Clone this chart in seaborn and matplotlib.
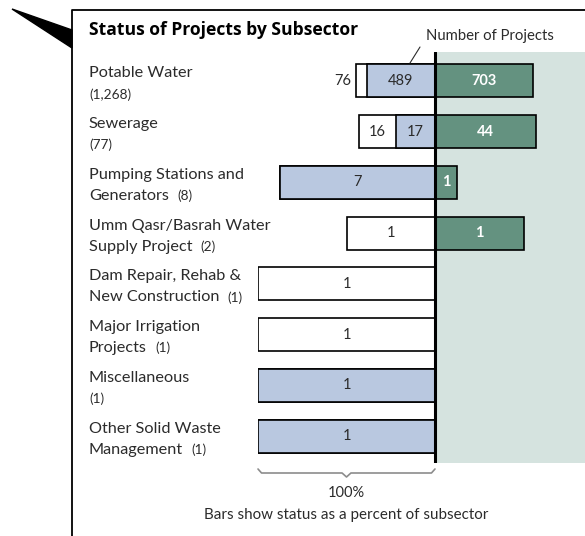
import numpy as np
import pandas as pd
import seaborn as sns
import matplotlib
matplotlib.use('Agg')
import matplotlib.pyplot as plt
import matplotlib.transforms as mtransforms
from matplotlib.patches import Polygon
from matplotlib.lines import Line2D

# subsector names (line 1, line 2); the project count is appended after line 2
name_line1 = ['Potable Water', 'Sewerage', 'Pumping Stations and', 'Umm Qasr/Basrah Water',
              'Dam Repair, Rehab &', 'Major Irrigation', 'Miscellaneous', 'Other Solid Waste']
name_line2 = ['', '', 'Generators', 'Supply Project', 'New Construction', 'Projects', '',
              'Management']
not_started = [76, 16, 0, 1, 1, 1, 0, 0]
ongoing = [489, 17, 7, 0, 0, 0, 1, 1]
completed = [703, 44, 1, 1, 0, 0, 0, 0]

df = pd.DataFrame({'name': name_line1, 'line2': name_line2, 'not_started': not_started,
                   'ongoing': ongoing, 'completed': completed})
df['total'] = df['not_started'] + df['ongoing'] + df['completed']
df['pct_ns'] = 100 * df['not_started'] / df['total']
df['pct_on'] = 100 * df['ongoing'] / df['total']
df['pct_co'] = 100 * df['completed'] / df['total']
df['left_all'] = -(df['pct_ns'] + df['pct_on'])
df['left_on'] = -df['pct_on']

sns.set_theme(style='white')
plt.rcParams['font.family'] = ['Lato', 'DejaVu Sans']

W, H = 585, 536
white, blue, green, bg = '#ffffff', '#b3c6e6', '#5c9a82', '#d5e3df'
txt = '#2b2b2b'
num_fs, lab_fs, cnt_fs = 10.5, 11.7, 9.8

fig = plt.figure(figsize=(W / 100, H / 100), dpi=100)
ax = fig.add_axes([258 / W, 1 - 463 / H, (W - 258) / W, (463 - 52) / H])

bar_kw = dict(y='name', orient='h', edgecolor='black', linewidth=1.2, width=0.65,
              errorbar=None, ax=ax, zorder=3)
sns.barplot(data=df, x='left_all', color=white, **bar_kw)
sns.barplot(data=df, x='left_on', color=blue, **bar_kw)
sns.barplot(data=df, x='pct_co', color=green, **bar_kw)

xmax = (W - 435) / 177 * 100
ax.set_xlim(-100, xmax)
ax.set_ylim(7.53, -0.57)
ax.axvspan(0, xmax, color=bg, zorder=0, lw=0)
ax.axvline(0, color='black', lw=2.2, zorder=5)
ax.set_axis_off()

# numbers in the segments
for i, r in df.iterrows():
    if r['not_started'] > 0:
        if r['pct_ns'] < 10:
            ax.text(r['left_all'] - 3, i, str(r['not_started']), ha='right', va='center',
                    fontsize=num_fs, color=txt, zorder=6)
        else:
            ax.text(r['left_all'] + r['pct_ns'] / 2, i, str(r['not_started']), ha='center',
                    va='center', fontsize=num_fs, color=txt, zorder=6)
    if r['ongoing'] > 0:
        ax.text(-r['pct_on'] / 2, i, str(r['ongoing']), ha='center', va='center',
                fontsize=num_fs, color=txt, zorder=6)
    if r['completed'] > 0:
        ax.text(r['pct_co'] / 2, i, str(r['completed']), ha='center', va='center',
                fontsize=num_fs, color='white', fontweight='bold', zorder=6)

# subsector labels
lab_tr = mtransforms.blended_transform_factory(fig.transFigure, ax.transData)
off = mtransforms.ScaledTranslation(0, -3 / 100, fig.dpi_scale_trans)
renderer = fig.canvas.get_renderer()
for i, r in df.iterrows():
    tr1 = lab_tr + off + mtransforms.ScaledTranslation(0, 10.5 / 100, fig.dpi_scale_trans)
    ax.text(89 / W, i, r['name'], transform=tr1, ha='left', va='center',
            fontsize=lab_fs, color=txt)
    cnt = f"({r['total']:,})"
    tr2 = lab_tr + off + mtransforms.ScaledTranslation(0, -10.5 / 100, fig.dpi_scale_trans)
    if r['line2']:
        t2 = ax.text(89 / W, i, r['line2'], transform=tr2, ha='left', va='center',
                     fontsize=lab_fs, color=txt)
        bb = t2.get_window_extent(renderer)
        ax.text(89 / W, i, cnt, transform=tr2 + mtransforms.ScaledTranslation(
            (bb.width + 8) / 100, 0, fig.dpi_scale_trans),
            ha='left', va='center', fontsize=cnt_fs, color=txt)
    else:
        ax.text(89 / W, i, cnt, transform=tr2, ha='left', va='center', fontsize=cnt_fs,
                color=txt)

# bracket below the 100% span
br_tr = mtransforms.blended_transform_factory(ax.transData, fig.transFigure)
bx = [-100, -98, -52.5, -50, -47.5, -2, 0]
by = [1 - 469 / H, 1 - 473 / H, 1 - 473 / H, 1 - 477 / H, 1 - 473 / H, 1 - 473 / H, 1 - 469 / H]
ax.plot(bx, by, transform=br_tr, color='#8c8c8c', lw=1.2, clip_on=False)
ax.text(-50, 1 - 493 / H, '100%', transform=br_tr, ha='center', va='center',
        fontsize=10.5, color=txt)
ax.text(-50, 1 - 515 / H, 'Bars show status as a percent of subsector', transform=br_tr,
        ha='center', va='center', fontsize=10.9, color=txt)

# frame, pointer and titles
fig.add_artist(Line2D([72 / W, 72 / W, 1.0], [0.0, 1 - 10 / H, 1 - 10 / H],
                      color='black', lw=1.3, transform=fig.transFigure))
fig.add_artist(Polygon([[12 / W, 1 - 9 / H], [72 / W, 1 - 30 / H], [72 / W, 1 - 48 / H]],
                       closed=True, color='black', transform=fig.transFigure))
fig.text(89 / W, 1 - 30 / H, 'Status of Projects by Subsector', ha='left', va='center',
         fontsize=12.6, fontweight='bold', color='black', family=['Open Sans', 'DejaVu Sans'])
fig.text(426 / W, 1 - 36 / H, 'Number of Projects', ha='left', va='center',
         fontsize=10.7, color=txt)
fig.add_artist(Line2D([420 / W, 410 / W], [1 - 47 / H, 1 - 63 / H], color=txt, lw=0.8,
                      transform=fig.transFigure))

fig.savefig('out.png', dpi=100)
